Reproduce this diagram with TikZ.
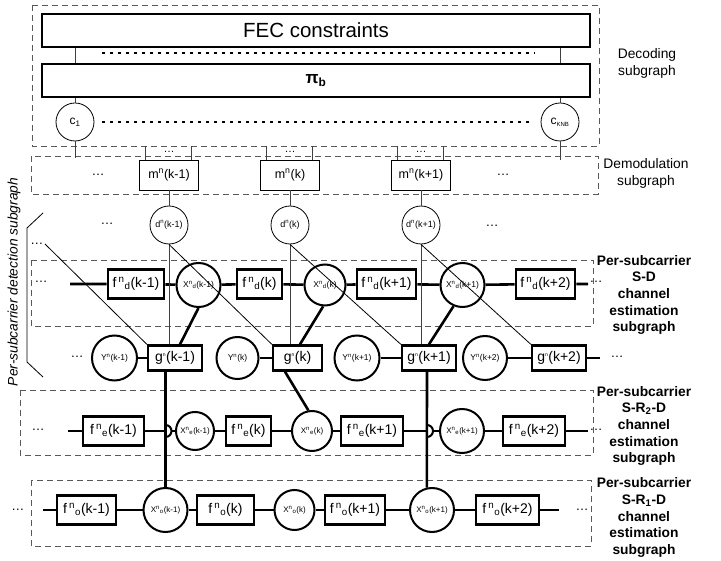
\documentclass[tikz,border=0pt]{standalone}
\usepackage{fontspec}
\setmainfont{Liberation Sans}
\usetikzlibrary{calc}
\newcommand\supb[2]{\textsuperscript{#1}\textsubscript{#2}}
\tikzset{
 fb/.style={draw, line width=2.6pt, minimum height=29pt, inner sep=0pt, font=\fontsize{14}{14}\selectfont},
 xc/.style={draw, circle, line width=2pt, inner sep=0pt, font=\fontsize{8.5}{9}\selectfont},
 thinc/.style={draw, circle, line width=0.8pt, inner sep=0pt, minimum size=38pt, font=\fontsize{9}{9}\selectfont},
 gb/.style={draw, line width=2.4pt, minimum height=25pt, inner sep=0pt, font=\fontsize{14}{14}\selectfont},
 mb/.style={draw, line width=0.8pt, minimum width=59pt, minimum height=30pt, inner sep=0pt, font=\fontsize{12.5}{13}\selectfont},
 bigb/.style={draw, line width=1.2pt, minimum width=548pt, minimum height=33pt, inner sep=0pt},
 dbox/.style={draw=black!65, dash pattern=on 6pt off 4pt, line width=0.9pt},
 thk/.style={line width=2.6pt},
 hopl/.style={line width=2pt},
 thn/.style={line width=0.8pt, black!75},
 dotl/.style={line width=1.6pt, dash pattern=on 2.5pt off 5.5pt},
 lab/.style={font=\fontsize{13.8}{16.7}\selectfont, align=center},
 blab/.style={font=\bfseries\fontsize{13.8}{16.7}\selectfont, align=center},
 dts/.style={font=\fontsize{13}{13}\selectfont, inner sep=0pt, anchor=base},
}
\begin{document}
\begin{tikzpicture}[x=1pt,y=-1pt]
\useasboundingbox (0,0) rectangle (721,561);
% dashed subgraph frames
\draw[dbox] (32,5) rectangle (599,146);
\draw[dbox] (31,156) rectangle (598,194);
\draw[dbox] (31,260) rectangle (593,326);
\draw[dbox] (20,390) rectangle (593,455);
\draw[dbox] (31,480) rectangle (591,546);
% decoding subgraph
\node[bigb, font=\fontsize{20.5}{21}\selectfont] (fec) at (316,30.5) {FEC constraints};
\node[bigb, font=\bfseries\fontsize{17}{17}\selectfont] (pib) at (316,80.5) {π\textsubscript{b}};
\node[thinc, font=\fontsize{12}{12}\selectfont] (c1) at (75,122) {c\textsubscript{1}};
\node[thinc, font=\fontsize{12}{12}\selectfont] (cK) at (560,122) {c\textsubscript{\fontsize{6}{6}\selectfont KNB}};
\coordinate (dl1a) at (102,53); \coordinate (dl1b) at (535,53);
\coordinate (dl2a) at (102,122); \coordinate (dl2b) at (533,122);
\draw[dotl] (dl1a) -- (dl1b);
\draw[dotl] (dl2a) -- (dl2b);
\draw[thn] (fec.south -| c1) -- (pib.north -| c1);
\draw[thn] (fec.south -| cK) -- (pib.north -| cK);
\draw[thn] (pib.south -| c1) -- (c1.north);
\draw[thn] (pib.south -| cK) -- (cK.north);
\coordinate (c1e) at (75,158); \coordinate (cKe) at (560,160);
\draw[thn] (c1.south) -- (c1e);
\draw[thn] (cK.south) -- (cKe);
% demodulation
\node[mb] (m1) at (169,175) {m\textsuperscript{n}(k-1)};
\node[mb] (m2) at (290,175) {m\textsuperscript{n}(k)};
\node[mb] (m3) at (421,175) {m\textsuperscript{n}(k+1)};
\foreach \m in {m1,m2,m3}{
  \draw[thn] ([xshift=-23.5pt]\m.north) -- ++(0,-14);
  \draw[thn] ([xshift=22.5pt]\m.north) -- ++(0,-14);
  \node[dts, font=\fontsize{11}{11}\selectfont] at ([yshift=7pt]\m.north) {…};
}
\node[dts] at (98,176) {…};
\node[dts] at (503,176) {…};
% d nodes
\node[thinc] (d1) at (169,225) {d\textsuperscript{n}(k-1)};
\node[thinc] (d2) at (290,225) {d\textsuperscript{n}(k)};
\node[thinc] (d3) at (421,225) {d\textsuperscript{n}(k+1)};
\draw[thn] (m1.south) -- (d1.north);
\draw[thn] (m2.south) -- (d2.north);
\draw[thn] (m3.south) -- (d3.north);
\node[dts] at (107,225) {…};
\node[dts] at (492,227) {…};
% S-D row
\node[fb, minimum width=56pt] (fd1) at (136,284) {f\kern2pt\supb{n}{d}(k-1)};
\node[xc, minimum size=44pt] (xd1) at (198.5,285) {X\supb{n}{d}(k-1)};
\node[fb, minimum width=45pt] (fd2) at (259.5,284) {f\kern2pt\supb{n}{d}(k)};
\node[xc, minimum size=41pt] (xd2) at (325,285) {X\supb{n}{d}(k)};
\node[fb, minimum width=59pt] (fd3) at (386.5,284) {f\kern2pt\supb{n}{d}(k+1)};
\node[xc, minimum size=44pt] (xd3) at (462.5,285) {X\supb{n}{d}(k+1)};
\node[fb, minimum width=59pt] (fd4) at (545.5,284) {f\kern2pt\supb{n}{d}(k+2)};
\coordinate (ld) at (70,284); \coordinate (rd) at (588,284);
\draw[thk] (ld) -- (fd1) -- (xd1) -- (fd2) -- (xd2) -- (fd3) -- (xd3) -- (fd4) -- (rd);
\node[dts] at (41,283) {…};
\node[dts] at (596,283) {…};
% g row
\node[xc, minimum size=45pt] (y1) at (114.5,358) {Y\textsuperscript{n}(k-1)};
\node[gb, minimum width=54pt] (g1) at (175,358) {g\textsuperscript{\fontsize{5}{5}\selectfont n}(k-1)};
\node[xc, minimum size=42pt] (y2) at (237.5,358) {Y\textsuperscript{n}(k)};
\node[gb, minimum width=49pt] (g2) at (297.5,358) {g\textsuperscript{\fontsize{5}{5}\selectfont n}(k)};
\node[xc, minimum size=45pt] (y3) at (357,358) {Y\textsuperscript{n}(k+1)};
\node[gb, minimum width=54pt] (g3) at (429,358) {g\textsuperscript{\fontsize{5}{5}\selectfont n}(k+1)};
\node[xc, minimum size=44pt] (y4) at (485,358) {Y\textsuperscript{n}(k+2)};
\node[gb, minimum width=54pt] (g4) at (559,358) {g\textsuperscript{\fontsize{5}{5}\selectfont n}(k+2)};
\coordinate (rg) at (600,358);
\draw[thk] (y1) -- (g1); \draw[thk] (y2) -- (g2); \draw[thk] (y3) -- (g3); \draw[thk] (y4) -- (g4);
\draw[thk] (g4.east) -- (rg);
\node[dts] at (617,358) {…};
\node[dts] at (77,358) {…};
% d -> g connections
\draw[thn] (d1.south) -- (d1.south |- g1.north);
\draw[thn] (d2.south) -- (d2.south |- g2.north);
\draw[thn] (d3.south) -- (d3.south |- g3.north);
\draw[thn, black] (d1.south) -- (g2.north west);
\draw[thn, black] (d2.south) -- (g3.north west);
\draw[thn, black] (d3.south) -- (g4.north west);
\coordinate (ldd) at (45,244);
\node[dts] at (37,245) {…};
\draw[thn, black] (ldd) -- (g1.north west);
% X_d -> g
\draw[thk] (xd1.south) -- ([xshift=5pt]g1.north);
\draw[thk] (xd2.-95) -- ([xshift=2.5pt]g2.north);
\draw[thk] (xd3.-113) -- (g3.north);
% bracket and rotated label
\draw[line width=0.8pt] (43,213) -- (27,228) -- (27,362) -- (43,377);
\node[lab, font=\itshape\fontsize{13.8}{14}\selectfont, rotate=90] at (14,282) {Per-subcarrier detection subgraph};
% S-R2-D row
\node[fb, minimum width=61pt] (fe1) at (113.5,431) {f\kern2pt\supb{n}{e}(k-1)};
\node[xc, minimum size=38pt, font=\fontsize{8}{8}\selectfont] (xe1) at (195,431) {X\supb{n}{e}(k-1)};
\node[fb, minimum width=45pt] (fe2) at (248.5,431) {f\kern2pt\supb{n}{e}(k)};
\node[xc, minimum size=40pt, font=\fontsize{8}{8}\selectfont] (xe2) at (312,431) {X\supb{n}{e}(k)};
\node[fb, minimum width=62pt] (fe3) at (372,431) {f\kern2pt\supb{n}{e}(k+1)};
\node[xc, minimum size=44pt, font=\fontsize{8}{8}\selectfont] (xe3) at (462,431) {X\supb{n}{e}(k+1)};
\node[fb, minimum width=62pt] (fe4) at (534,431) {f\kern2pt\supb{n}{e}(k+2)};
\coordinate (le) at (68,431); \coordinate (re) at (588,431);
\coordinate (hop1) at (165.5,431); \coordinate (hop3) at (427,431);
\draw[thk] (le) -- (fe1);
\draw[thk] (fe1.east) -- (hop1);
\draw[hopl] ([yshift=6pt]hop1) arc[start angle=90, end angle=-90, radius=6pt];
\draw[thk] ([xshift=6pt]hop1) -- (xe1.west);
\draw[thk] (xe1) -- (fe2) -- (xe2) -- (fe3);
\draw[thk] (fe3.east) -- (hop3);
\draw[hopl] ([yshift=6pt]hop3) arc[start angle=90, end angle=-90, radius=6pt];
\draw[thk] ([xshift=6pt]hop3) -- (xe3.west);
\draw[thk] (xe3) -- (fe4) -- (re);
\node[dts] at (38,431) {…};
\node[dts] at (596,431) {…};
\draw[thk] ([xshift=-12.5pt]g2.south) -- (xe2.100);
% S-R1-D row
\node[fb, minimum width=59pt] (fo1) at (86.5,510) {f\kern2pt\supb{n}{o}(k-1)};
\node[xc, minimum size=44pt, font=\fontsize{8}{8}\selectfont] (xo1) at (165.5,510) {X\supb{n}{o}(k-1)};
\node[fb, minimum width=57pt] (fo2) at (225.5,510) {f\kern2pt\supb{n}{o}(k)};
\node[xc, minimum size=40pt, font=\fontsize{8}{8}\selectfont] (xo2) at (294.5,510) {X\supb{n}{o}(k)};
\node[fb, minimum width=60pt] (fo3) at (355,510) {f\kern2pt\supb{n}{o}(k+1)};
\node[xc, minimum size=44pt, font=\fontsize{8}{8}\selectfont] (xo3) at (432,510) {X\supb{n}{o}(k+1)};
\node[fb, minimum width=63pt] (fo4) at (507.5,510) {f\kern2pt\supb{n}{o}(k+2)};
\coordinate (lo) at (43,510); \coordinate (ro) at (559,510);
\draw[thk] (lo) -- (fo1) -- (xo1) -- (fo2) -- (xo2) -- (fo3) -- (xo3) -- (fo4) -- (ro);
\node[dts] at (18,511) {…};
\node[dts] at (582,511) {…};
% vertical links g -> X_o
\draw[thk] (g1.south -| hop1) -- (xo1.north);
\draw[thk] (g3.south -| hop3) -- (xo3.103);
% right labels
\node[lab] at (647,63.5) {Decoding\\subgraph};
\node[lab] at (646,173.5) {Demodulation\\subgraph};
\node[blab] at (644,295) {Per-subcarrier\\S-D\\channel\\estimation\\subgraph};
\node[blab] at (644,426) {Per-subcarrier\\S-R\textsubscript{2}-D\\channel\\estimation\\subgraph};
\node[blab] at (644,517.5) {Per-subcarrier\\S-R\textsubscript{1}-D\\channel\\estimation\\subgraph};
\end{tikzpicture}
\end{document}
